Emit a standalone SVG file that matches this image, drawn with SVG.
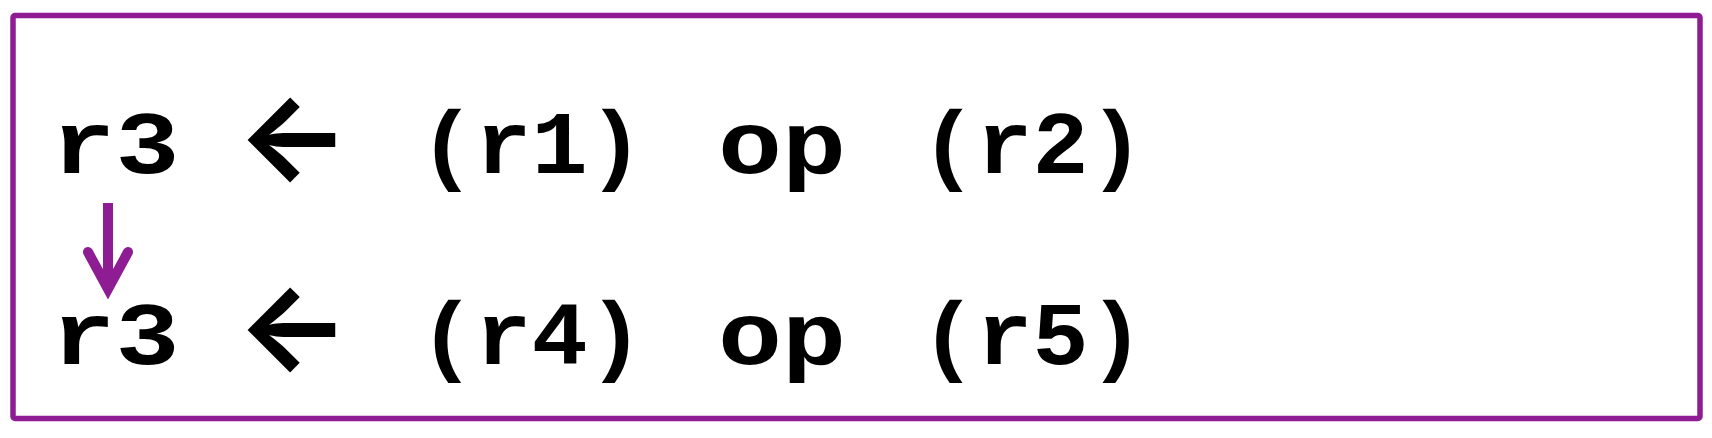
<svg xmlns="http://www.w3.org/2000/svg" width="1712" height="438" viewBox="0 0 1712 438">
  <style>
    .code { font-family: "Liberation Mono", "Courier New", monospace; font-weight: bold; font-size: 89px; fill: #000; text-anchor: middle; }
    .assign { font-family: Inter, "Noto Sans", "DejaVu Sans", sans-serif; font-weight: 700; font-size: 120px; fill: #000; text-anchor: middle; }
    .frame { fill: #fff; stroke: #8E1C93; stroke-width: 5.5; }
    .conn { fill: none; stroke: #8E1C93; stroke-width: 10; }
  </style>
  <rect x="0" y="0" width="1712" height="438" fill="#fff"/>
  <rect id="frame" class="frame" x="13" y="15.5" width="1687" height="403" rx="2"/>
  <g id="line1">
    <text class="code" x="115.5" y="173" textLength="128" lengthAdjust="spacingAndGlyphs">r3</text>
    <text class="assign" x="293" y="177.5">←</text>
    <text class="code" x="531.5" y="173" textLength="225" lengthAdjust="spacingAndGlyphs">(r1)</text>
    <text class="code" x="782" y="173" textLength="128" lengthAdjust="spacingAndGlyphs">op</text>
    <text class="code" x="1032.5" y="173" textLength="224" lengthAdjust="spacingAndGlyphs">(r2)</text>
  </g>
  <g id="line2">
    <text class="code" x="115.5" y="364" textLength="128" lengthAdjust="spacingAndGlyphs">r3</text>
    <text class="assign" x="293" y="368">←</text>
    <text class="code" x="531.5" y="364" textLength="225" lengthAdjust="spacingAndGlyphs">(r4)</text>
    <text class="code" x="782" y="364" textLength="128" lengthAdjust="spacingAndGlyphs">op</text>
    <text class="code" x="1032.5" y="364" textLength="224" lengthAdjust="spacingAndGlyphs">(r5)</text>
  </g>
  <g id="connectors">
    <path class="conn" d="M108 203 V288" stroke-linecap="butt"/>
    <path class="conn" d="M88 252 L108 289 L128 252" stroke-linecap="round" stroke-linejoin="miter"/>
  </g>
</svg>
